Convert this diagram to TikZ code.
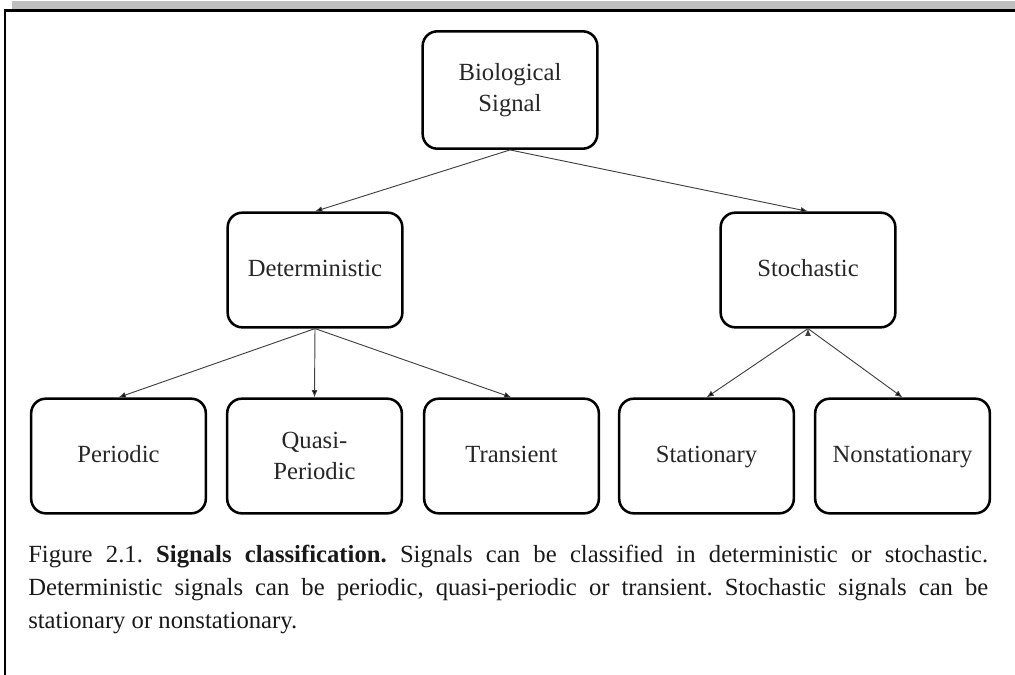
\documentclass[tikz,border=0pt]{standalone}
\usepackage{fontspec}
\setmainfont{Liberation Serif}
\usetikzlibrary{positioning,arrows.meta}

\begin{document}
\begin{tikzpicture}[x=0.75pt,y=-0.75pt,
  sig/.style={draw, line width=1.9pt, rounded corners=11pt, align=center,
    minimum width=131pt, minimum height=86pt, inner sep=2pt,
    font=\fontsize{18.5}{23.5}\selectfont, text=black!85},
  link/.style={-{Latex[length=5.5pt,width=4.5pt]}, line width=0.7pt, draw=black!75}]
\useasboundingbox (0,0) rectangle (1015,675);
\fill[black!25] (12,1) rectangle (1015,9);
\draw[line width=1.9pt] (5,675) -- (5,10.5) -- (1015,10.5);

\node[sig, minimum height=88pt] (bio) at (510,90) {Biological\\Signal};
\node[sig] (det) at (315,270) {\strut Deterministic};
\node[sig] (sto) at (808,270) {\strut Stochastic};

\node[sig] (per) at (118.5,456) {\strut Periodic};
\node[sig] (qua) at (314.5,456) {Quasi-\\Periodic};
\node[sig] (tra) at (511.5,456) {\strut Transient};
\node[sig] (sta) at (706.5,456) {\strut Stationary};
\node[sig] (non) at (902.5,456) {\strut Nonstationary};

\path[link]
(bio.south) edge (det.north)
(bio.south) edge (sto.north)

(det.south) edge (per.north)
(det.south) edge (qua.north)
(det.south) edge (tra.north)

(sto.south) edge (sta.north)
(sto.south) edge (non.north)
; %end path

\node[anchor=base west, text width=720pt, inner sep=0pt, align=justify,
  font=\fontsize{18.5}{25.1}\selectfont\frenchspacing, text=black!90] (cap) at (28,562)
  {Figure 2.1. \textbf{Signals classification.} Signals can be classified in deterministic or stochastic.\linebreak
   Deterministic signals can be periodic, quasi-periodic or transient. Stochastic signals can be\linebreak
   stationary or nonstationary.};
\end{tikzpicture}
\end{document}
